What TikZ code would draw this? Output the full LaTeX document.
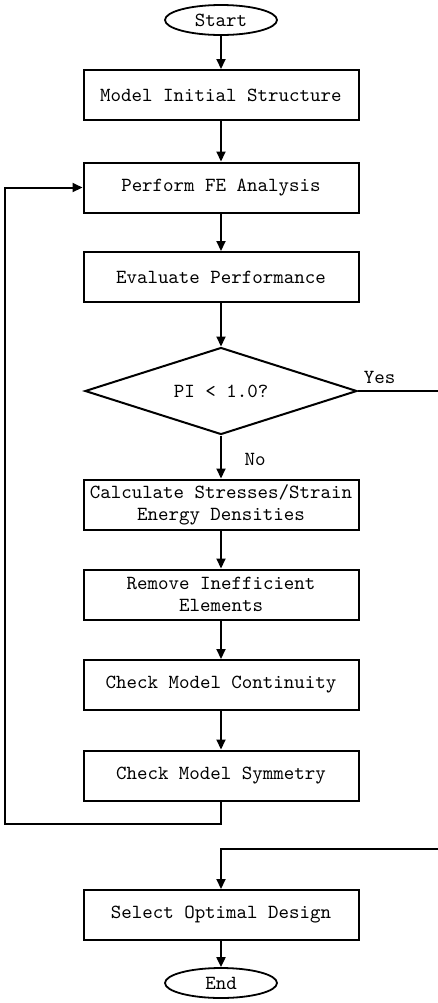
\documentclass[tikz,border=0pt]{standalone}
\usetikzlibrary{shapes.geometric,arrows.meta}

\begin{document}
\begin{tikzpicture}[
    x=0.5pt, y=-0.5pt,
    every node/.style={font=\fontsize{10}{11}\selectfont\ttfamily},
    terminal/.style={
        ellipse,
        draw,
        line width=0.9pt,
        minimum width=56pt,
        minimum height=15pt,
        inner sep=0pt
    },
    process/.style={
        rectangle,
        draw,
        line width=1pt,
        minimum width=137.5pt,
        minimum height=25pt,
        inner sep=1pt,
        align=center
    },
    decision/.style={
        diamond,
        draw,
        line width=1pt,
        aspect=3.13,
        minimum width=136pt,
        minimum height=43.5pt,
        inner sep=0pt
    },
    flow/.style={
        line width=1pt,
        -{Triangle[length=5pt,width=4.5pt]}
    },
    link/.style={
        line width=1pt
    }
]
\useasboundingbox (0,0) rectangle (438,1003);

\node[terminal] (start) at (221,20) {Start};

\node[process] (model) at (221,95) {Model Initial Structure};
\node[process] (fea) at (221,187.5) {Perform FE Analysis};
\node[process] (eval) at (221,277) {Evaluate Performance};
\node[decision] (check) at (221,391) {PI < 1.0?};
\node[process] (calc) at (221,504.5) {Calculate Stresses/Strain\\Energy Densities};
\node[process] (remove) at (221,594.5) {Remove Inefficient\\Elements};
\node[process] (cont) at (221,685) {Check Model Continuity};
\node[process] (symm) at (221,775.5) {Check Model Symmetry};
\node[process] (select) at (221,915) {Select Optimal Design};

\node[terminal] (end) at (221,983) {End};

% Connector ends
\coordinate (yesout) at (438,391);
\coordinate (yesin) at (438,849);
\coordinate (loopbot) at (5,824);
\coordinate (looptop) at (5,187.5);

% Arrows
\draw[flow] (start) -- (model);
\draw[flow] (model) -- (fea);
\draw[flow] (fea) -- (eval);
\draw[flow] (eval) -- (check);
\draw[flow] (check) -- node[right=8pt, pos=0.55] (nolabel) {No} (calc);
\draw[flow] (calc) -- (remove);
\draw[flow] (remove) -- (cont);
\draw[flow] (cont) -- (symm);
\draw[flow] (select) -- (end);

% Loop back
\draw[flow] (symm.south) |- (loopbot) -- (looptop) -- (fea.west);

% Yes branch
\draw[link] (check.east) -- node[above, pos=0.27] (yeslabel) {Yes} (yesout);
\draw[flow] (yesin) -| (select.north);

\end{tikzpicture}
\end{document}
